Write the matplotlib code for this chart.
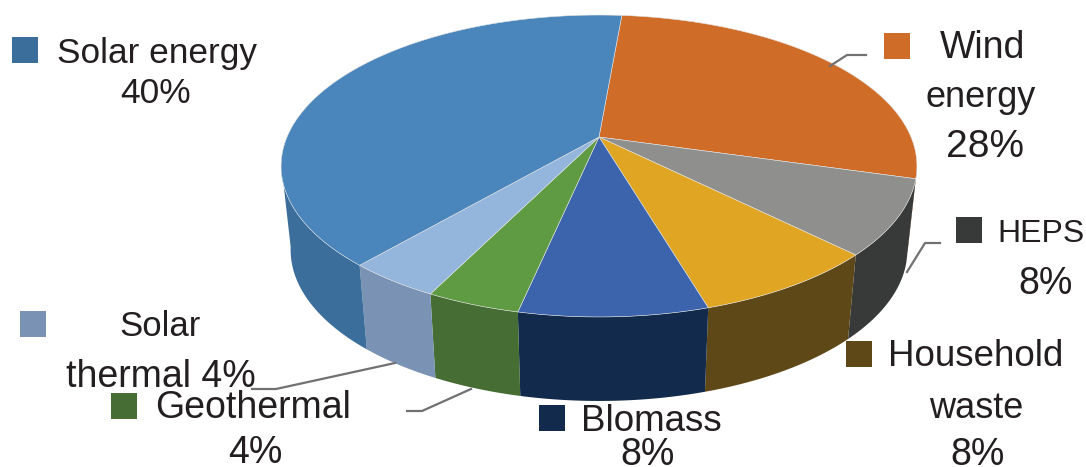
import numpy as np
import matplotlib
matplotlib.use("Agg")
import matplotlib.pyplot as plt
from matplotlib.patches import Polygon, Rectangle

plt.rcParams["font.family"] = ["Liberation Sans", "DejaVu Sans"]

# clockwise from the top of the pie
categories = ["Wind energy", "HEPS", "Household waste", "Blomass",
              "Geothermal", "Solar thermal", "Solar energy"]
values = [28, 8, 8, 8, 4, 4, 40]
label_texts = [
    ["Wind", "energy", "28%"],
    ["HEPS", "8%"],
    ["Household", "waste", "8%"],
    ["Blomass", "8%"],
    ["Geothermal", "4%"],
    ["Solar", "thermal 4%"],
    ["Solar energy", "40%"],
]

top_colors = ["#CF6C27", "#8F8F8D", "#E0A623", "#3B64AD",
              "#5F9B42", "#94B5DC", "#4A86BC"]
side_colors = ["#B05A20", "#383A39", "#5E4818", "#122A4B",
               "#466D33", "#7A92B3", "#3C6E9B"]
marker_colors = ["#CF6C27", "#383A39", "#5E4818", "#122A4B",
                 "#466D33", "#7A92B3", "#3C6E9B"]

# layout in pixels: centre x, baseline y, font size for each label line
label_layout = [
    [(983, 58, 27), (981, 107, 26), (985, 157, 28)],
    [(1041, 242, 23), (1046, 294, 27)],
    [(976, 366, 26.5), (976, 418, 26), (978, 465, 27)],
    [(651, 431, 26.5), (648, 465, 27)],
    [(253, 418, 27), (255, 463, 27)],
    [(160, 336, 25), (161, 387, 27)],
    [(157, 63, 25.4), (156, 103, 25.5)],
]
marker_pos = [(884, 33), (956, 217), (846, 341), (539, 405),
              (111, 393), (20, 311), (12, 37)]
leader_lines = [
    [(830, 66), (847, 55), (866, 55)],
    [(907, 272), (925, 243), (940, 243)],
    [(471, 389), (422, 411), (407, 411)],
    [(395, 363), (276, 389), (252, 389)],
]

# pie geometry in pixels, the top face is a circle seen in perspective
CX, CY = 599, 137
RADIUS = 312
PERSP_A, PERSP_C = 119.1, -0.192
DEPTH = 84
SHRINK = 0.97
START = -85


def top_point(theta):
    t = np.radians(theta)
    w = 1 + PERSP_C * np.sin(t)
    return CX + RADIUS * np.cos(t) / w, (PERSP_A * np.sin(t) + CY) / w


def bottom_point(theta):
    x, y = top_point(theta)
    return CX + (x - CX) * SHRINK, y + DEPTH


fig = plt.figure(figsize=(10.86, 4.67), dpi=100)
ax = fig.add_axes([0, 0, 1, 1])
ax.set_xlim(0, 1086)
ax.set_ylim(467, 0)
ax.axis("off")

edges = START + np.cumsum([0] + values) * 3.6

# side walls, only the front part can be seen
for i in range(len(values)):
    a = max(edges[i], 11)
    b = min(edges[i + 1], 170)
    if b <= a:
        continue
    th = np.linspace(a, b, 60)
    xt, yt = top_point(th)
    xb, yb = bottom_point(th)
    pts = np.column_stack([np.r_[xt, xb[::-1]], np.r_[yt, yb[::-1]]])
    ax.add_patch(Polygon(pts, closed=True, facecolor=side_colors[i],
                         edgecolor="none", zorder=2))

# top face
for i in range(len(values)):
    th = np.linspace(edges[i], edges[i + 1], 120)
    xt, yt = top_point(th)
    pts = np.column_stack([np.r_[CX, xt], np.r_[CY, yt]])
    ax.add_patch(Polygon(pts, closed=True, facecolor=top_colors[i],
                         edgecolor="#e4e4e4", linewidth=0.4, zorder=3))

for line in leader_lines:
    xs, ys = zip(*line)
    ax.plot(xs, ys, color="#717174", linewidth=1.6, zorder=4)

for i in range(len(categories)):
    ax.add_patch(Rectangle(marker_pos[i], 26, 26, facecolor=marker_colors[i],
                           edgecolor="none", zorder=5))
    for text, (x, y, size) in zip(label_texts[i], label_layout[i]):
        ax.text(x, y, text, ha="center", va="baseline", fontsize=size,
                color="#231F20", zorder=6)

fig.savefig("out.png", dpi=100)
plt.close(fig)
